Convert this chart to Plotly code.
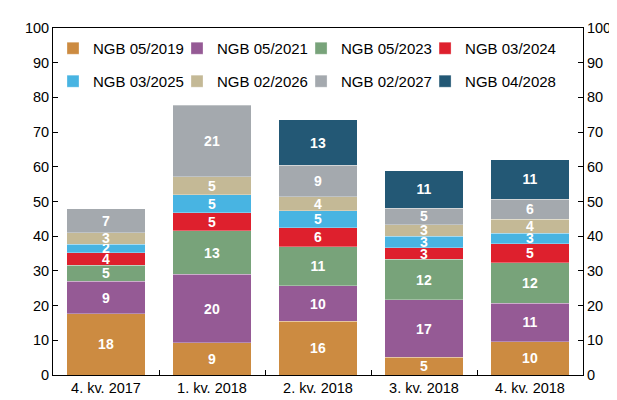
import plotly.graph_objects as go

categories = ["4. kv. 2017", "1. kv. 2018", "2. kv. 2018", "3. kv. 2018", "4. kv. 2018"]

series_names = ["NGB 05/2019", "NGB 05/2021", "NGB 05/2023", "NGB 03/2024",
                "NGB 03/2025", "NGB 02/2026", "NGB 02/2027", "NGB 04/2028"]

ngb_05_2019 = [17.6, 9.3, 15.5, 5.1, 9.6]
ngb_05_2021 = [9.4, 19.7, 10.2, 16.6, 11.1]
ngb_05_2023 = [4.7, 12.6, 11.2, 11.6, 11.7]
ngb_03_2024 = [3.6, 5.1, 5.6, 3.4, 5.4]
ngb_03_2025 = [2.4, 5.2, 4.9, 3.3, 3.1]
ngb_02_2026 = [3.3, 5.3, 4.0, 3.3, 4.0]
ngb_02_2027 = [6.9, 20.6, 9.1, 4.8, 5.8]
ngb_04_2028 = [None, None, 13.0, 10.8, 11.4]

series_values = [ngb_05_2019, ngb_05_2021, ngb_05_2023, ngb_03_2024,
                 ngb_03_2025, ngb_02_2026, ngb_02_2027, ngb_04_2028]

colors = ["#CC8B41", "#955A95", "#78A37A", "#DE202D",
          "#48B4E2", "#C4B996", "#A4A9AE", "#235875"]

y_ticks = [0, 10, 20, 30, 40, 50, 60, 70, 80, 90, 100]

FONT = "Liberation Sans, Arial, sans-serif"

# legend layout: 4 columns x 2 rows (paper coordinates)
legend_cols = [0.0, 0.234, 0.468, 0.702]
legend_rows = [0.941, 0.846]

fig = go.Figure()
legend_layout = {}
for i, (name, vals, col) in enumerate(zip(series_names, series_values, colors)):
    labels = ["" if v is None else f"{round(v):d}" for v in vals]
    lg = "legend" if i == 0 else f"legend{i + 1}"
    fig.add_trace(go.Bar(
        x=categories, y=vals, name=name,
        marker=dict(color=col, line=dict(color="rgba(255,255,255,0.6)", width=0.5)),
        text=labels, textposition="inside", insidetextanchor="middle",
        textangle=0, constraintext="none",
        textfont=dict(family=FONT, size=14, color="white", weight="bold"),
        legend=lg,
        hoverinfo="skip",
    ))
    legend_layout[lg] = dict(orientation="h", x=legend_cols[i % 4], xanchor="left",
                             y=legend_rows[i // 4], yanchor="middle",
                             bgcolor="rgba(0,0,0,0)", font=dict(size=15),
                             itemwidth=30)

fig.add_trace(go.Scatter(x=[categories[0]], y=[None], yaxis="y2",
                         showlegend=False, hoverinfo="skip"))

fig.update_layout(
    width=617, height=400,
    margin=dict(l=45, r=42, t=17, b=25),
    barmode="stack", bargap=0.26,
    paper_bgcolor="white", plot_bgcolor="white",
    font=dict(family=FONT, size=14, color="black"),
    xaxis=dict(showline=True, linecolor="black", linewidth=1, mirror=True,
               ticks="inside", ticklen=5, tickcolor="black", tickson="boundaries",
               showgrid=False, tickfont=dict(size=14.5)),
    yaxis=dict(range=[0, 100], tickvals=y_ticks, showline=True, linecolor="black",
               linewidth=1, ticks="inside", ticklen=5, tickcolor="black",
               showgrid=False, zeroline=False, tickfont=dict(size=14.5),
               ticksuffix="\u00a0\u00a0"),
    yaxis2=dict(range=[0, 100], tickvals=y_ticks, overlaying="y", side="right",
                showline=True, linecolor="black", linewidth=1, ticks="inside",
                ticklen=5, tickcolor="black", showgrid=False, zeroline=False,
                tickfont=dict(size=14.5), tickprefix="\u00a0"),
    **legend_layout,
)

fig.write_html("out.html")
